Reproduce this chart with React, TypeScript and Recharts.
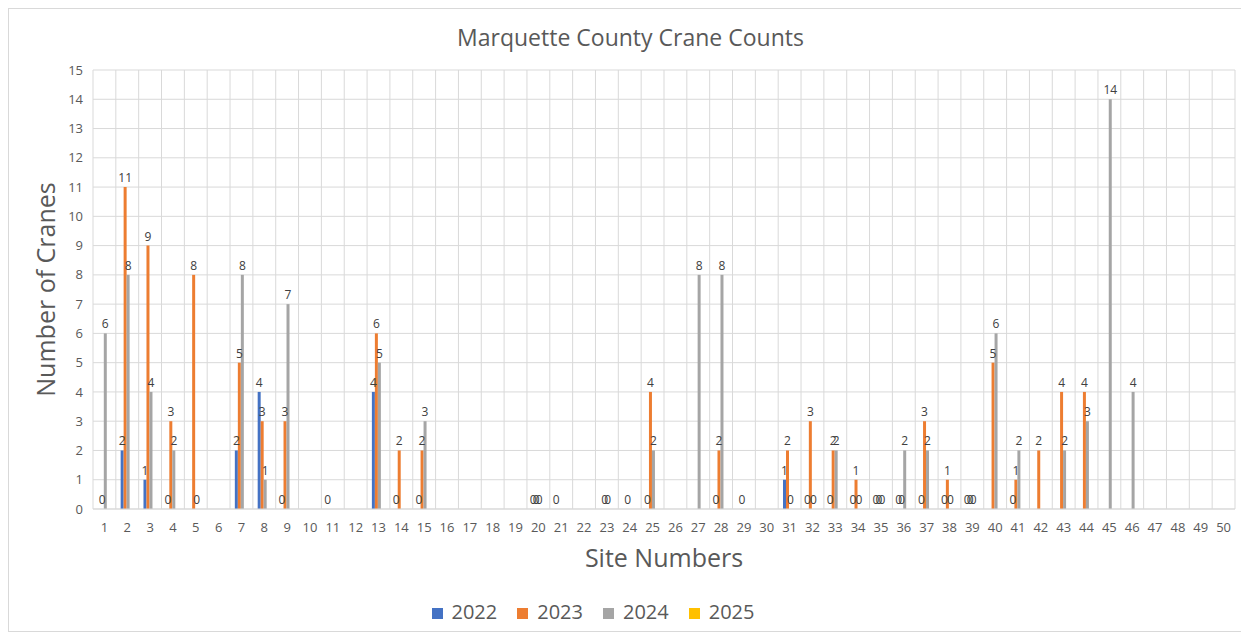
import React from 'react';
import { BarChart, Bar, XAxis, YAxis, CartesianGrid, Legend, LabelList, Label } from 'recharts';

const sites: string[] = [
  '1','2','3','4','5','6','7','8','9','10',
  '11','12','13','14','15','16','17','18','19','20',
  '21','22','23','24','25','26','27','28','29','30',
  '31','32','33','34','35','36','37','38','39','40',
  '41','42','43','44','45','46','47','48','49','50',
];

const counts2022: (number | null)[] = [
  null, 2, 1, 0, null, null, 2, 4, 0, null,
  0, null, 4, 0, 0, null, null, null, null, 0,
  0, null, null, null, 0, null, null, 0, null, null,
  1, 0, 0, 0, 0, 0, 0, 0, 0, null,
  0, null, null, null, null, null, null, null, null, null,
];

const counts2023: (number | null)[] = [
  0, 11, 9, 3, 8, null, 5, 3, 3, null,
  null, null, 6, 2, 2, null, null, null, null, 0,
  null, null, 0, 0, 4, null, null, 2, 0, null,
  2, 3, 2, 1, 0, 0, 3, 1, 0, 5,
  1, 2, 4, 4, null, null, null, null, null, null,
];

const counts2024: (number | null)[] = [
  6, 8, 4, 2, 0, null, 8, 1, 7, null,
  null, null, 5, null, 3, null, null, null, null, 0,
  null, null, 0, null, 2, null, 8, 8, null, null,
  0, 0, 2, 0, 0, 2, 2, 0, 0, 6,
  2, null, 2, 3, 14, 4, null, null, null, null,
];

const counts2025: (number | null)[] = [
  null, null, null, null, null, null, null, null, null, null,
  null, null, null, null, null, null, null, null, null, null,
  null, null, null, null, null, null, null, null, null, null,
  null, null, null, null, null, null, null, null, null, null,
  null, null, null, null, null, null, null, null, null, null,
];

const yTicks: number[] = [0, 1, 2, 3, 4, 5, 6, 7, 8, 9, 10, 11, 12, 13, 14, 15];

const seriesDefs = [
  { key: 'y2022', name: '2022', color: '#4472C4' },
  { key: 'y2023', name: '2023', color: '#ED7D31' },
  { key: 'y2024', name: '2024', color: '#A5A5A5' },
  { key: 'y2025', name: '2025', color: '#FFC000' },
];

const data = sites.map((s, i) => ({
  site: s,
  y2022: counts2022[i],
  y2023: counts2023[i],
  y2024: counts2024[i],
  y2025: counts2025[i],
}));

const FONT = '"Open Sans", "Noto Sans", sans-serif';

const renderValueLabel = (props: any) => {
  const { x, y, width, value } = props;
  if (value === null || value === undefined || value === '') return null;
  const yy = Number(y);
  if (!isFinite(yy)) return null;
  return (
    <text
      x={Number(x) + Number(width) / 2}
      y={yy - 5}
      textAnchor="middle"
      fontSize={12}
      fontFamily={FONT}
      fill="#404040"
    >
      {value}
    </text>
  );
};

const zeroMin = (v: any) => (v === 0 ? 0.01 : 0);

const gridVerticals = (props: any) => {
  const { offset } = props;
  const left = offset.left;
  const w = offset.width;
  const n = sites.length;
  const out: number[] = [];
  for (let i = 0; i <= n; i++) out.push(left + (w * i) / n);
  return out;
};

export default function App() {
  return (
    <div
      style={{
        position: 'relative',
        width: 1233,
        height: 622,
        border: '1px solid #d9d9d9',
        background: '#fff',
        fontFamily: FONT,
      }}
    >
      <div
        style={{
          position: 'absolute',
          top: 12,
          left: 0,
          width: 1243,
          textAlign: 'center',
          fontSize: 23,
          color: '#595959',
          fontFamily: FONT,
        }}
      >
        Marquette County Crane Counts
      </div>
      <BarChart
        width={1233}
        height={622}
        data={data}
        margin={{ top: 61, right: 7, left: 0, bottom: 92 }}
        barCategoryGap="21%"
        barGap={0}
      >
        <CartesianGrid
          stroke="#d9d9d9"
          verticalCoordinatesGenerator={gridVerticals}
        />
        <XAxis
          dataKey="site"
          interval={0}
          tickLine={false}
          axisLine={{ stroke: '#d9d9d9' }}
          height={30}
          tick={{ fontSize: 13, fill: '#595959', fontFamily: FONT }}
          tickMargin={8}
        >
          <Label
            content={(p: any) => {
              const vb = p.viewBox;
              return (
                <text
                  x={vb.x + vb.width / 2}
                  y={vb.y + 48}
                  textAnchor="middle"
                  dominantBaseline="central"
                  fontSize={25}
                  fontFamily={FONT}
                  fill="#595959"
                >
                  Site Numbers
                </text>
              );
            }}
          />
        </XAxis>
        <YAxis
          width={84}
          domain={[0, 15]}
          ticks={yTicks}
          interval={0}
          tickLine={false}
          axisLine={false}
          tick={{ fontSize: 13, fill: '#595959', fontFamily: FONT }}
          tickMargin={4}
        >
          <Label
            content={(p: any) => {
              const vb = p.viewBox;
              const cx = 36;
              const cy = vb.y + vb.height / 2;
              return (
                <text
                  x={cx}
                  y={cy}
                  textAnchor="middle"
                  dominantBaseline="central"
                  transform={`rotate(-90 ${cx} ${cy})`}
                  fontSize={25}
                  fontFamily={FONT}
                  fill="#595959"
                >
                  Number of Cranes
                </text>
              );
            }}
          />
        </YAxis>
        <Legend
          verticalAlign="middle"
          align="center"
          iconType="square"
          iconSize={11}
          wrapperStyle={{ top: 589, left: 404, width: 380, fontSize: 20, fontFamily: FONT }}
          formatter={(value: string) => (
            <span style={{ color: '#595959', paddingLeft: 5, paddingRight: 10 }}>{value}</span>
          )}
        />
        {seriesDefs.map((s) => (
          <Bar
            key={s.key}
            dataKey={s.key}
            name={s.name}
            fill={s.color}
            minPointSize={zeroMin}
            isAnimationActive={false}
          >
            <LabelList dataKey={s.key} content={renderValueLabel} />
          </Bar>
        ))}
      </BarChart>
    </div>
  );
}
